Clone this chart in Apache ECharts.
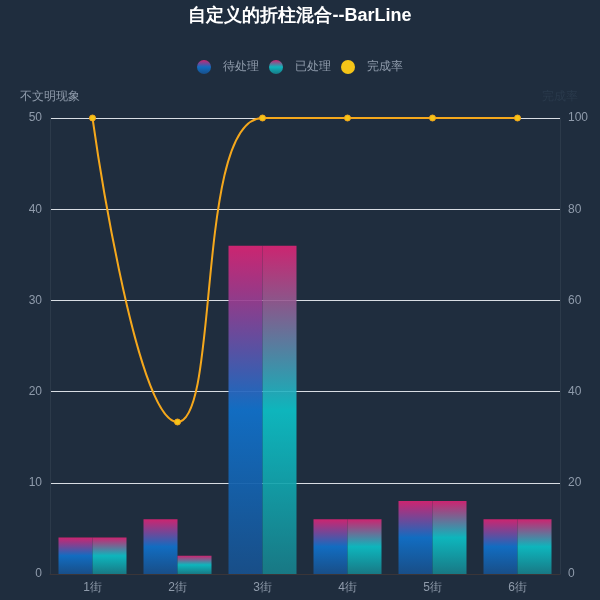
<!DOCTYPE html>
<html>
<head>
<meta charset="utf-8">
<script src="https://cdn.jsdelivr.net/npm/echarts@6/dist/echarts.min.js"></script>
<style>
html,body{margin:0;padding:0;background:#1f2d3e;}
#main{width:600px;height:600px;}
</style>
</head>
<body>
<div id="main"></div>
<script>
// 数据
var categories = ['1街', '2街', '3街', '4街', '5街', '6街'];
var pendingData = [4, 6, 36, 6, 8, 6];       // 待处理
var handledData = [4, 2, 36, 6, 8, 6];       // 已处理
var rateData = [100, 33.33, 100, 100, 100, 100]; // 完成率
var leftTicks = [0, 50, 10];
var rightTicks = [0, 100, 20];

function barColor(mid, bottom) {
	return new echarts.graphic.LinearGradient(0, 0, 0, 1, [
		{ offset: 0, color: 'rgba(222,36,118,0.9)' },
		{ offset: 0.5, color: mid },
		{ offset: 1, color: bottom }
	]);
}

var chart = echarts.init(document.getElementById('main'));
var option = {
	backgroundColor: '#1f2d3e',
	title: {
		text: '自定义的折柱混合--BarLine',
		left: 'center',
		top: 2,
		textStyle: { color: '#fff', fontSize: 18, fontWeight: 'bold' }
	},
	legend: {
		top: 55,
		left: 'center',
		itemWidth: 14,
		itemHeight: 14,
		itemGap: 10,
		textStyle: { color: '#8f9bab', fontSize: 12, padding: [0, 0, 0, 7] },
		data: [
			{ name: '待处理', icon: 'circle' },
			{ name: '已处理', icon: 'circle' },
			{ name: '完成率', icon: 'circle' }
		]
	},
	grid: { left: 50, right: 40, top: 118, bottom: 26 },
	xAxis: {
		type: 'category',
		data: categories,
		axisLine: { lineStyle: { color: '#3a3538' } },
		axisTick: { show: false },
		axisLabel: { color: '#8f9bab', fontSize: 12 }
	},
	yAxis: [
		{
			type: 'value',
			name: '不文明现象',
			nameTextStyle: { color: '#8f9bab', fontSize: 12 },
			min: leftTicks[0], max: leftTicks[1], interval: leftTicks[2],
			axisLine: { show: true, lineStyle: { color: '#2c3a4a' } },
			axisTick: { show: false },
			axisLabel: { color: '#8f9bab', fontSize: 12 },
			splitLine: { lineStyle: { color: '#d8dde3', width: 1 } }
		},
		{
			type: 'value',
			name: '完成率',
			nameTextStyle: { color: '#2a3a4c', fontSize: 12 },
			min: rightTicks[0], max: rightTicks[1], interval: rightTicks[2],
			axisLine: { show: true, lineStyle: { color: '#2c3a4a' } },
			axisTick: { show: false },
			axisLabel: { color: '#8f9bab', fontSize: 12 },
			splitLine: { show: false }
		}
	],
	series: [
		{
			name: '待处理',
			type: 'bar',
			barWidth: '40%',
			barGap: 0,
			data: pendingData,
			itemStyle: { color: barColor('rgba(17,112,200,0.95)', 'rgba(24,80,140,0.95)') }
		},
		{
			name: '已处理',
			type: 'bar',
			barWidth: '40%',
			data: handledData,
			itemStyle: { color: barColor('rgba(12,196,202,0.9)', 'rgba(24,124,136,0.95)') }
		},
		{
			name: '完成率',
			type: 'line',
			yAxisIndex: 1,
			smooth: true,
			symbol: 'circle',
			symbolSize: 6,
			data: rateData,
			lineStyle: { color: '#f5a81c', width: 2 },
			itemStyle: { color: '#f5c518', borderColor: '#f5a81c' }
		}
	]
};
chart.setOption(option);
</script>
</body>
</html>
